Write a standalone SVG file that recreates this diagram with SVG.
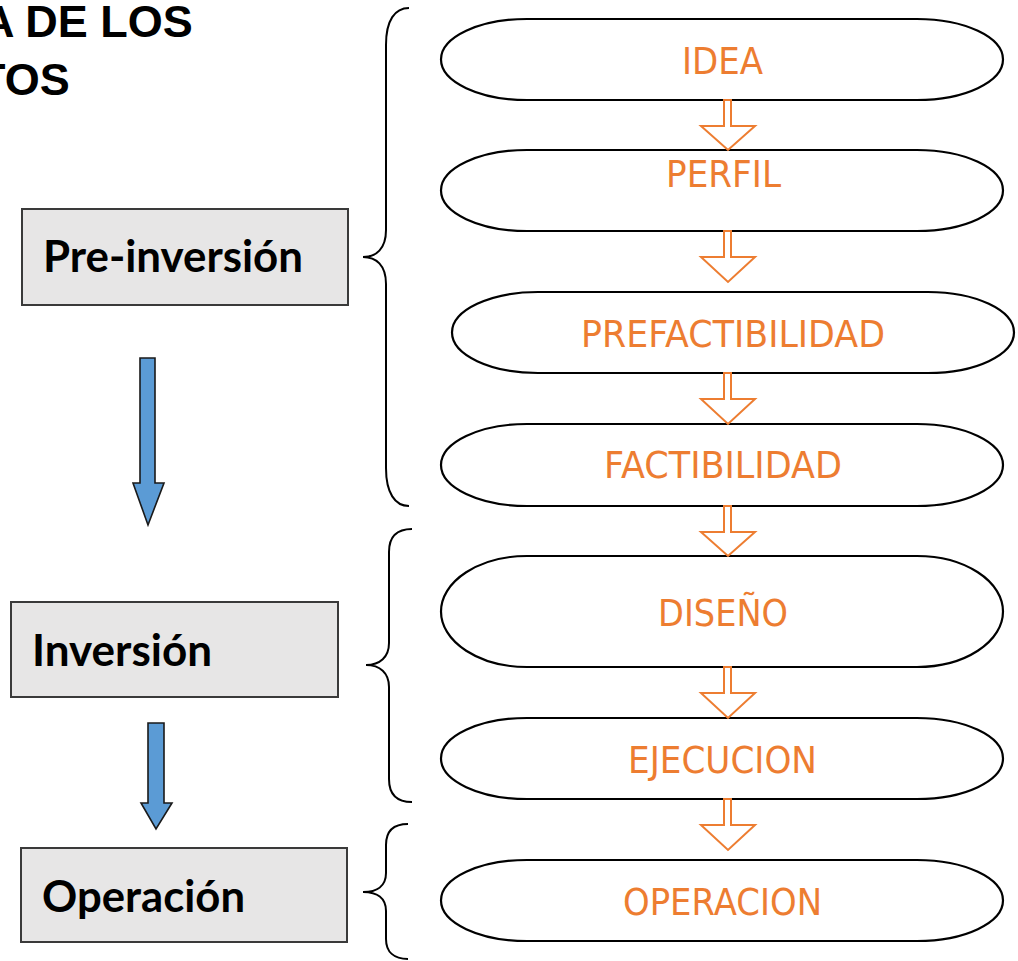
<svg xmlns="http://www.w3.org/2000/svg" width="1018" height="961" viewBox="0 0 1018 961">
<style>
.title{font-family:"Liberation Sans",Arial,sans-serif;font-weight:700;font-size:45px;fill:#000}
.box{fill:#E7E6E6;stroke:#3a3a3a;stroke-width:2}
.boxt{font-family:Lato,"Open Sans",sans-serif;font-weight:700;font-size:43px;fill:#000}
.pill{fill:#fff;stroke:#000;stroke-width:2.2}
.pt{font-family:"DejaVu Sans",Verdana,sans-serif;font-size:37px;fill:#ED7D31;text-anchor:middle}
.oarrow{fill:#fff;stroke:#ED7D31;stroke-width:2;stroke-linejoin:miter}
.barrow{fill:#5B9BD5;stroke:#1a1a1a;stroke-width:1.6}
.brace{fill:none;stroke:#000;stroke-width:2}
</style>
<rect width="1018" height="961" fill="#fff"/>
<g id="title">
<text class="title" x="-18" y="37">A DE LOS</text>
<text class="title" x="-22" y="95">TOS</text>
</g>
<g id="preinversion">
<rect class="box" x="22" y="209" width="326" height="96"/>
<text class="boxt" x="43" y="272" textLength="260" lengthAdjust="spacingAndGlyphs">Pre-inversión</text>
</g>
<g id="inversion">
<rect class="box" x="11" y="602" width="327" height="95"/>
<text class="boxt" x="32" y="666" textLength="180" lengthAdjust="spacingAndGlyphs">Inversión</text>
</g>
<g id="operacion">
<rect class="box" x="21" y="848" width="326" height="94"/>
<text class="boxt" x="42" y="912" textLength="203" lengthAdjust="spacingAndGlyphs">Operación</text>
</g>
<g id="braces">
<path class="brace" d="M409,8 C395,8 386,20 386,45 L386,230 C386,249 376,257 363,257 C376,257 386,265 386,284 L386,468 C386,493 395,506 409,506"/>
<path class="brace" d="M412,529 C398,529 389,536 389,552 L389,643 C389,657 380,665 366,665 C380,665 389,673 389,687 L389,779 C389,795 398,802 412,802"/>
<path class="brace" d="M408,824 C394,824 386,831 386,845 L386,873 C386,886 377,892 363,892 C377,892 386,898 386,911 L386,939 C386,952 394,959 408,959"/>
</g>
<g id="idea">
<rect class="pill" x="441" y="19" width="562" height="81" rx="86" ry="40.5"/>
<text class="pt" x="722.5" y="74" textLength="81" lengthAdjust="spacingAndGlyphs">IDEA</text>
</g>
<g id="perfil">
<rect class="pill" x="441" y="150" width="562" height="81" rx="86" ry="40.5"/>
<text class="pt" x="723.5" y="187" textLength="115" lengthAdjust="spacingAndGlyphs">PERFIL</text>
</g>
<g id="prefactibilidad">
<rect class="pill" x="452" y="292" width="562" height="81" rx="86" ry="40.5"/>
<text class="pt" x="733" y="347" textLength="304" lengthAdjust="spacingAndGlyphs">PREFACTIBILIDAD</text>
</g>
<g id="factibilidad">
<rect class="pill" x="441" y="424" width="562" height="82" rx="86" ry="41"/>
<text class="pt" x="723" y="478" textLength="238" lengthAdjust="spacingAndGlyphs">FACTIBILIDAD</text>
</g>
<g id="diseno">
<rect class="pill" x="441" y="556" width="562" height="111" rx="86" ry="55.5"/>
<text class="pt" x="723" y="626" textLength="130" lengthAdjust="spacingAndGlyphs">DISEÑO</text>
</g>
<g id="ejecucion">
<rect class="pill" x="441" y="718" width="562" height="81" rx="86" ry="40.5"/>
<text class="pt" x="722.5" y="773" textLength="189" lengthAdjust="spacingAndGlyphs">EJECUCION</text>
</g>
<g id="operacion-stage">
<rect class="pill" x="441" y="860" width="562" height="81" rx="86" ry="40.5"/>
<text class="pt" x="722.5" y="915" textLength="199" lengthAdjust="spacingAndGlyphs">OPERACION</text>
</g>
<g id="connectors">
<polygon class="oarrow" points="724,100 731,100 731,126 755,126 728,150 701,126 724,126"/>
<polygon class="oarrow" points="724,231 731,231 731,257 755,257 728,282 701,257 724,257"/>
<polygon class="oarrow" points="724,373 731,373 731,399 755,399 728,424 701,399 724,399"/>
<polygon class="oarrow" points="724,506 731,506 731,532 755,532 728,556 701,532 724,532"/>
<polygon class="oarrow" points="724,667 731,667 731,693 755,693 728,718 701,693 724,693"/>
<polygon class="oarrow" points="724,799 731,799 731,825 755,825 728,850 701,825 724,825"/>
<polygon class="barrow" points="140,358 155,358 155,483 164,483 148,525 133,483 140,483"/>
<polygon class="barrow" points="148,723 164,723 164,803 172,803 156,829 141,803 148,803"/>
</g>
</svg>
